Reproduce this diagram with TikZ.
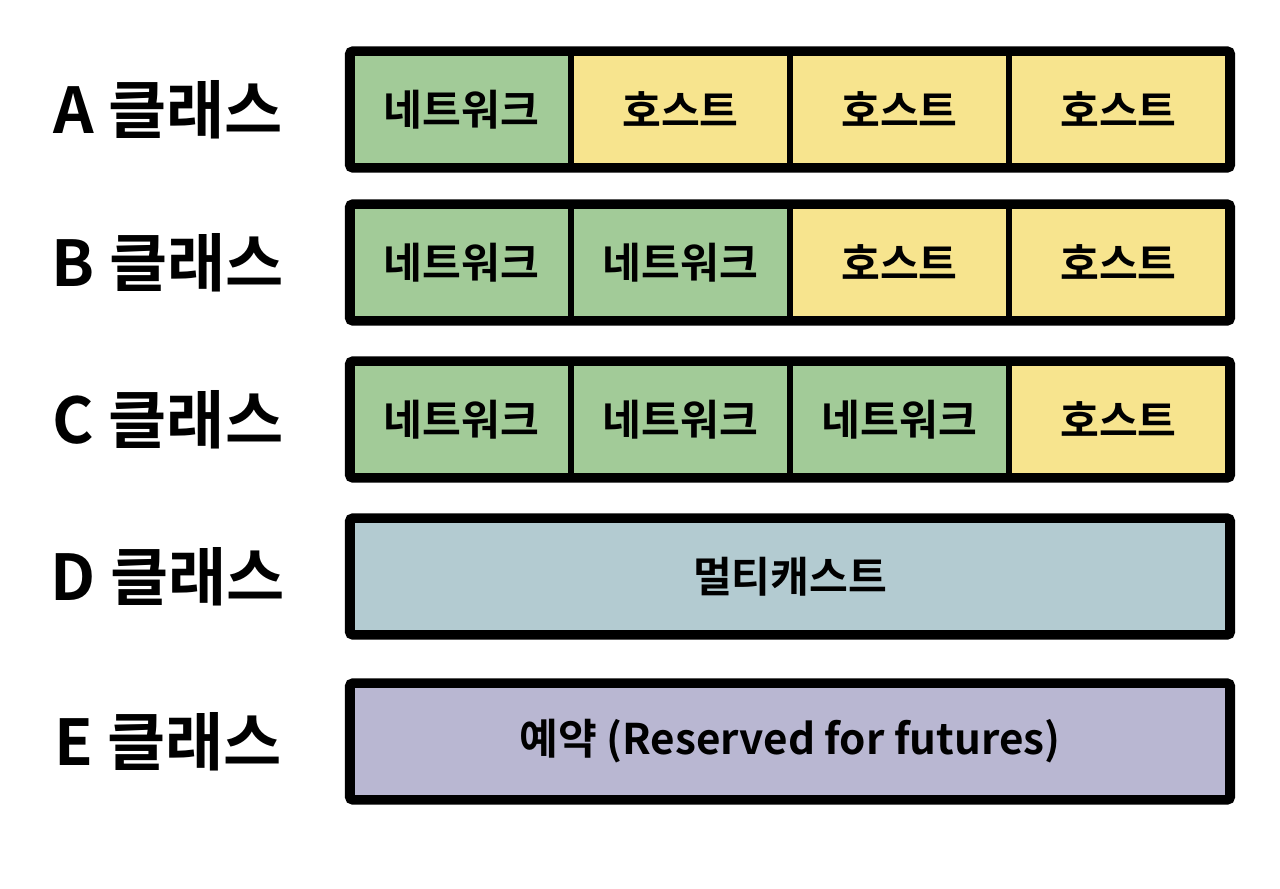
\documentclass[tikz,border=0pt]{standalone}
\usepackage{fontspec}
\setmainfont{Noto Sans CJK KR}[BoldFont={Noto Sans CJK KR Bold}]
\usetikzlibrary{positioning}
\definecolor{netgreen}{HTML}{A2CB98}
\definecolor{hostyellow}{HTML}{F7E48E}
\definecolor{multiblue}{HTML}{B3CBD1}
\definecolor{resvpurple}{HTML}{B9B7D2}

\begin{document}
\begin{tikzpicture}[-,node distance=4.38cm,
  net node/.style={rectangle,fill=netgreen,draw,line width=3.4pt,minimum width=4.38cm,minimum height=2.24cm,font=\fontsize{24}{24}\selectfont\bfseries},
  host node/.style={net node,fill=hostyellow},
  wide node/.style={net node,minimum width=17.52cm},
  frame/.style={draw,line width=4.6pt,rounded corners=2pt},
  class label/.style={font=\fontsize{36}{36}\selectfont\bfseries}]
  \useasboundingbox (0,0) rectangle (25.6,-17.78);
  % A class
  \node[class label] (la) at (3.36,-2.19) {A 클래스};
  \node[net node]  (a1) at (9.23,-2.19) {네트워크};
  \node[host node] (a2) [right of=a1] {호스트};
  \node[host node] (a3) [right of=a2] {호스트};
  \node[host node] (a4) [right of=a3] {호스트};
  % B class
  \node[class label] (lb) at (3.36,-5.25) {B 클래스};
  \node[net node]  (b1) at (9.23,-5.25) {네트워크};
  \node[net node]  (b2) [right of=b1] {네트워크};
  \node[host node] (b3) [right of=b2] {호스트};
  \node[host node] (b4) [right of=b3] {호스트};
  % C class
  \node[class label] (lc) at (3.36,-8.39) {C 클래스};
  \node[net node]  (c1) at (9.23,-8.39) {네트워크};
  \node[net node]  (c2) [right of=c1] {네트워크};
  \node[net node]  (c3) [right of=c2] {네트워크};
  \node[host node] (c4) [right of=c3] {호스트};
  % D and E class
  \node[class label] (ld) at (3.36,-11.53) {D 클래스};
  \node[wide node,fill=multiblue] (d) at (15.8,-11.53) {멀티캐스트};
  \node[class label] (le) at (3.36,-14.83) {E 클래스};
  \node[wide node,fill=resvpurple] (e) at (15.8,-14.83) {예약 (Reserved for futures)};

  \path[frame]
    (a1.north west) rectangle (a4.south east)
    (b1.north west) rectangle (b4.south east)
    (c1.north west) rectangle (c4.south east)
    (d.north west) rectangle (d.south east)
    (e.north west) rectangle (e.south east);
\end{tikzpicture}
\end{document}
